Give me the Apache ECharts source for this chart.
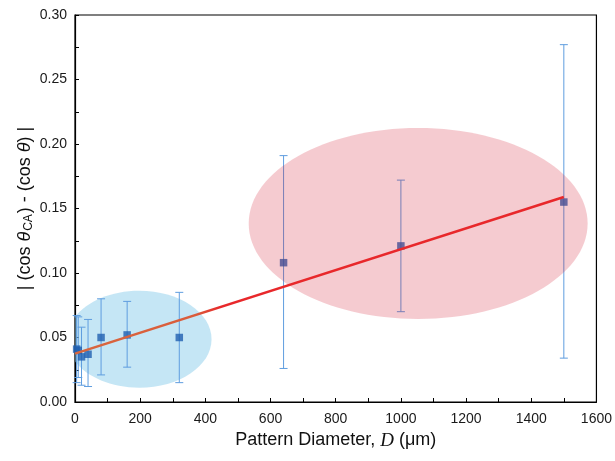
<!DOCTYPE html>
<html>
<head>
<meta charset="utf-8">
<script src="https://cdn.jsdelivr.net/npm/echarts@6/dist/echarts.min.js"></script>
<style>
  html, body { margin: 0; padding: 0; background: #fff; }
  #chart { width: 615px; height: 461px; }
</style>
</head>
<body>
<div id="chart"></div>
<script>
// Pattern diameter (µm) and measured |cos θCA − cos θ| with error-bar limits
const diameters = [5, 10, 20, 40, 80, 160, 320, 640, 1000, 1500];
const cosDiff   = [0.041, 0.040, 0.035, 0.037, 0.050, 0.052, 0.050, 0.108, 0.121, 0.155];
const errLow    = [0.015, 0.019, 0.013, 0.012, 0.021, 0.027, 0.015, 0.026, 0.070, 0.034];
const errHigh   = [0.067, 0.066, 0.058, 0.064, 0.080, 0.078, 0.085, 0.191, 0.172, 0.277];

// Linear fit endpoints
const fitX = [0, 1500];
const fitY = [0.0375, 0.159];

// Highlight regions: [centre D, centre value, half-width D, half-height value]
const smallRegion = [197, 0.0487, 222, 0.0376];
const largeRegion = [1053, 0.1384, 520, 0.074];

// Axis ticks
const xTicks = [0, 200, 400, 600, 800, 1000, 1200, 1400, 1600];
const yTicks = [0.00, 0.05, 0.10, 0.15, 0.20, 0.25, 0.30];

const FONT = '"Liberation Sans", Arial, sans-serif';

const pointData = diameters.map((d, i) => [d, cosDiff[i]]);
const errData = diameters.map((d, i) => [d, errLow[i], errHigh[i]]);
const fitData = fitX.map((x, i) => [x, fitY[i]]);

function ellipseItem(fill) {
  return function (params, api) {
    const c = api.coord([api.value(0), api.value(1)]);
    const s = api.size([api.value(2), api.value(3)]);
    return {
      type: 'ellipse',
      shape: { cx: c[0], cy: c[1], rx: s[0], ry: s[1] },
      style: { fill: fill }
    };
  };
}

function errorItem(params, api) {
  const x = api.value(0);
  const top = api.coord([x, api.value(2)]);
  const bot = api.coord([x, api.value(1)]);
  const hw = 4;
  const st = { stroke: '#5f9ddf', lineWidth: 1 };
  return {
    type: 'group',
    children: [
      { type: 'line', shape: { x1: top[0], y1: top[1], x2: bot[0], y2: bot[1] }, style: st },
      { type: 'line', shape: { x1: top[0] - hw, y1: top[1], x2: top[0] + hw, y2: top[1] }, style: st },
      { type: 'line', shape: { x1: bot[0] - hw, y1: bot[1], x2: bot[0] + hw, y2: bot[1] }, style: st }
    ]
  };
}

const chart = echarts.init(document.getElementById('chart'), null, { renderer: 'canvas' });

chart.setOption({
  animation: false,
  backgroundColor: '#fff',
  grid: {
    left: 75, right: 18, top: 15, bottom: 59,
    show: true, borderColor: '#000', borderWidth: 1.2, backgroundColor: 'transparent'
  },
  xAxis: {
    type: 'value',
    min: xTicks[0], max: xTicks[xTicks.length - 1], interval: 200,
    name: '{n|Pattern Diameter, }{d|D}{n| (μm)}',
    nameLocation: 'middle', nameGap: 29,
    nameTextStyle: {
      rich: {
        n: { fontFamily: FONT, fontSize: 18, color: '#111' },
        d: { fontFamily: '"Liberation Serif", "DejaVu Serif", serif', fontStyle: 'italic', fontSize: 19, color: '#111' }
      }
    },
    axisLine: { lineStyle: { color: '#000', width: 1.2 } },
    axisTick: { inside: true, length: 4, lineStyle: { color: '#000' } },
    minorTick: { show: true, splitNumber: 2, length: 4, lineStyle: { color: '#000' } },
    splitLine: { show: false },
    axisLabel: {
      fontFamily: FONT, fontSize: 14, color: '#1a1a1a', margin: 10,
      formatter: v => String(v)
    }
  },
  yAxis: {
    type: 'value',
    min: yTicks[0], max: yTicks[yTicks.length - 1], interval: 0.05,
    name: '{n|| (cos }{it|θ}{sub|CA}{n|) - (cos }{it|θ}{n|) |}',
    nameLocation: 'middle', nameRotate: 90, nameGap: 40,
    nameMoveOverlap: false,
    nameTextStyle: {
      rich: {
        n: { fontFamily: FONT, fontSize: 18, color: '#111', lineHeight: 20 },
        it: { fontFamily: FONT, fontStyle: 'italic', fontSize: 18, color: '#111', lineHeight: 20 },
        sub: { fontFamily: FONT, fontSize: 12, color: '#111', verticalAlign: 'bottom', lineHeight: 20, padding: [9, 1, 0, 1] }
      }
    },
    axisLine: { lineStyle: { color: '#000', width: 1.2 } },
    axisTick: { inside: true, length: 4, lineStyle: { color: '#000' } },
    minorTick: { show: true, splitNumber: 2, length: 4, lineStyle: { color: '#000' } },
    splitLine: { show: false },
    axisLabel: {
      fontFamily: FONT, fontSize: 14, color: '#1a1a1a', margin: 8,
      formatter: v => v.toFixed(2)
    }
  },
  series: [
    {
      type: 'custom', name: 'small', z: 1, silent: true,
      renderItem: ellipseItem('rgba(140,205,235,0.5)'),
      data: [smallRegion], clip: true
    },
    {
      type: 'custom', name: 'err', z: 2, silent: true,
      renderItem: errorItem,
      encode: { x: 0, y: [1, 2] },
      data: errData
    },
    {
      type: 'scatter', name: 'points', z: 3,
      symbol: 'rect', symbolSize: 7.5,
      itemStyle: { color: '#1f5fb0' },
      data: pointData
    },
    {
      type: 'custom', name: 'large', z: 4, silent: true,
      renderItem: ellipseItem('rgba(210,20,40,0.22)'),
      data: [largeRegion], clip: true
    },
    {
      type: 'line', name: 'fit', z: 5,
      showSymbol: false, symbol: 'none',
      lineStyle: {
        width: 2.6,
        color: new echarts.graphic.LinearGradient(0, 0, 1, 0, [
          { offset: 0, color: '#d8673f' },
          { offset: 0.25, color: '#da5c3b' },
          { offset: 0.30, color: '#e8282b' },
          { offset: 1, color: '#e8282b' }
        ])
      },
      data: fitData
    }
  ]
});
</script>
</body>
</html>
